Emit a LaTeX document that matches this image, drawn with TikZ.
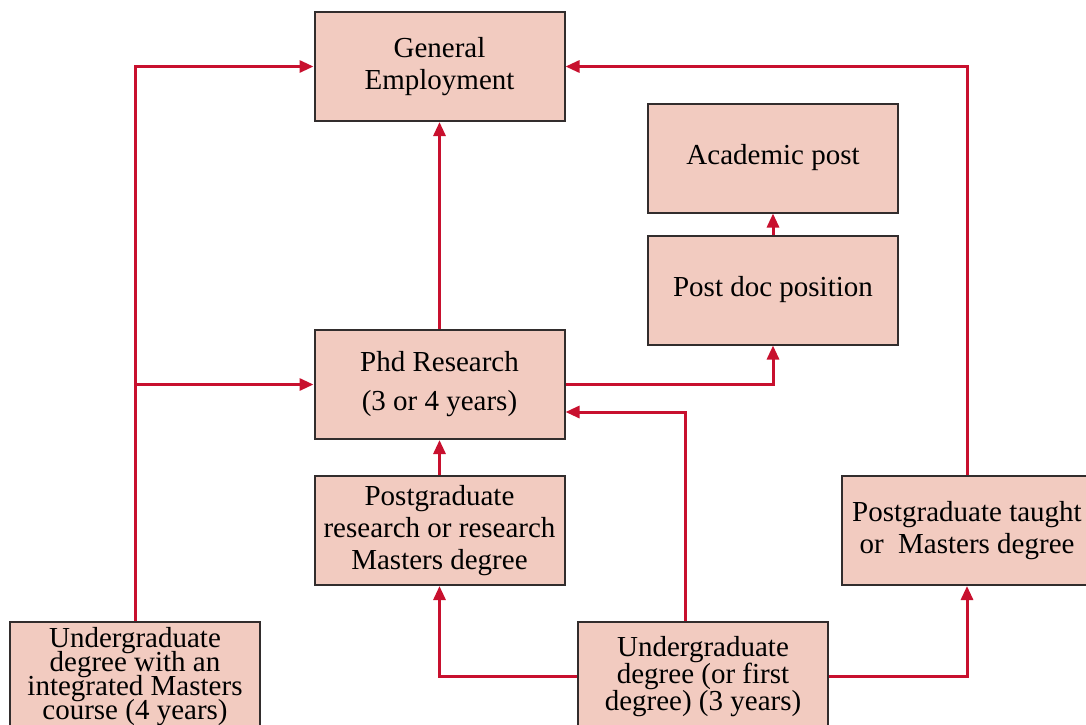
\documentclass[tikz,border=0pt]{standalone}
\usepackage{fontspec}
\setmainfont{Liberation Serif}
\usetikzlibrary{arrows.meta, positioning}
\definecolor{boxfill}{RGB}{242,203,192}
\definecolor{linkred}{RGB}{200,16,46}
\definecolor{boxline}{RGB}{50,45,45}
\newcommand{\tightlines}{\lineskiplimit=-20pt\relax}

\begin{document}
\begin{tikzpicture}[
    x=0.5pt, y=-0.5pt,
    box/.style={rectangle, draw=boxline, line width=1pt, fill=boxfill, minimum width=125pt, minimum height=54.5pt, inner sep=2pt, align=center, font=\fontsize{14.5}{16}\selectfont},
    arr/.style={-{Triangle[length=7pt, width=6pt]}, draw=linkred, line width=1.5pt}
]
\useasboundingbox (0,0) rectangle (1086,724);

\node[box] (gen) at (439.5,66.5) {General\\Employment};
\node[box] (acad) at (773,158) {Academic post};
\node[box] (postdoc) at (773,290) {Post doc position};
\node[box, font=\fontsize{14.5}{19.5}\selectfont] (phd) at (439.5,384.5) {Phd Research\\(3 or 4 years)};
\node[box] (pgres) at (439.5,530.5) {Postgraduate\\research or research\\Masters degree};
\node[box] (taught) at (967,530.5) {Postgraduate taught\\or\ \ Masters degree};
\node[box, inner ysep=0pt, font={\fontsize{14.5}{12}\selectfont\tightlines}] (integ) at (135,676.5) {Undergraduate\\degree with an\\integrated Masters\\course (4 years)};
\node[box, font={\fontsize{14.5}{13.5}\selectfont\tightlines}] (ug) at (703,676.5) {Undergraduate\\degree (or first\\degree) (3 years)};

\draw[arr] (integ.north) |- (gen.west);
\draw[arr] (integ.north) |- (phd.west);
\draw[arr] (phd.north) -- (gen.south);
\draw[arr] (pgres.north) -- (phd.south);
\draw[arr] (phd.east) -| (postdoc.south);
\draw[arr] (postdoc.north) -- (acad.south);
\draw[arr] ([xshift=-9pt]ug.north) |- ([yshift=-13.75pt]phd.east);
\draw[arr] (ug.west) -| (pgres.south);
\draw[arr] (ug.east) -| (taught.south);
\draw[arr] (taught.north) |- (gen.east);
\end{tikzpicture}
\end{document}
